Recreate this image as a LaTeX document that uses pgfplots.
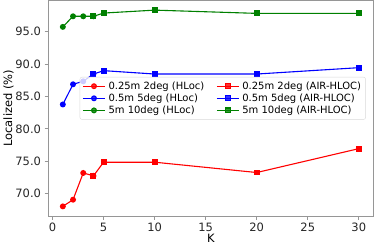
\documentclass[border=0pt]{standalone}
\usepackage{fontspec}
\setmainfont{DejaVu Sans}
\usepackage{pgfplots}
\pgfplotsset{compat=1.18}
\definecolor{mplred}{RGB}{255,0,0}
\definecolor{mplblue}{RGB}{0,0,255}
\definecolor{mplgreen}{RGB}{0,128,0}
\definecolor{framegray}{RGB}{150,150,150}
\begin{document}
\begin{tikzpicture}[x=1pt,y=1pt]
\begin{axis}[
  scale only axis,
  width=326pt, height=216pt,
  xmin=-0.45, xmax=31.45,
  ymin=66.55, ymax=99.8,
  xtick={0,5,10,15,20,25,30},
  ytick={70,75,80,85,90,95},
  yticklabel style={/pgf/number format/.cd,fixed,fixed zerofill,precision=1},
  /pgf/number format/assume math mode=true,
  tick label style={font=\fontsize{11.5}{12}\selectfont, text=black!85},
  label style={font=\fontsize{11.5}{12}\selectfont},
  xlabel={K}, ylabel={Localized (\%)},
  xlabel style={yshift=5pt},
  ylabel style={yshift=-5pt},
  axis line style={framegray, line width=0.8pt},
  tick style={framegray, line width=0.8pt},
  tick align=outside, major tick length=3.5pt,
  xtick pos=bottom, ytick pos=left,
  legend columns=2,
  legend style={at={(rel axis cs:0.976,0.645)}, anchor=north east,
    font=\fontsize{10}{11.5}\selectfont, draw=black!15, rounded corners=2pt,
    fill=white, fill opacity=0.8, text opacity=1,
    /tikz/every odd column/.append style={column sep=1pt},
    /tikz/every even column/.append style={column sep=10pt},
    row sep=-1pt, inner sep=2.5pt},
  legend cell align=left,
  legend image code/.code={\draw[#1] (0pt,0pt) -- (11pt,0pt) plot coordinates {(11pt,0pt)} -- (22pt,0pt);},
  every axis plot/.append style={line width=1.1pt},
]
\addplot[mplred, mark=*, mark size=2.4pt] coordinates {(1,68.05) (2,69.08) (3,73.2) (4,72.76)};
\addlegendentry{0.25m 2deg (HLoc)}
\addplot[mplred, mark=square*, mark size=2.4pt] coordinates {(4,72.76) (5,74.86) (10,74.86) (20,73.27) (30,76.95)};
\addlegendentry{0.25m 2deg (AIR-HLOC)}
\addplot[mplblue, mark=*, mark size=2.4pt] coordinates {(1,83.76) (2,86.87) (3,87.33) (4,88.45)};
\addlegendentry{0.5m 5deg (HLoc)}
\addplot[mplblue, mark=square*, mark size=2.4pt] coordinates {(4,88.45) (5,88.97) (10,88.45) (20,88.45) (30,89.43)};
\addlegendentry{0.5m 5deg (AIR-HLOC)}
\addplot[mplgreen, mark=*, mark size=2.4pt] coordinates {(1,95.72) (2,97.35) (3,97.35) (4,97.35)};
\addlegendentry{5m 10deg (HLoc)}
\addplot[mplgreen, mark=square*, mark size=2.4pt] coordinates {(4,97.35) (5,97.85) (10,98.3) (20,97.8) (30,97.8)};
\addlegendentry{5m 10deg (AIR-HLOC)}
\end{axis}
\end{tikzpicture}
\end{document}
